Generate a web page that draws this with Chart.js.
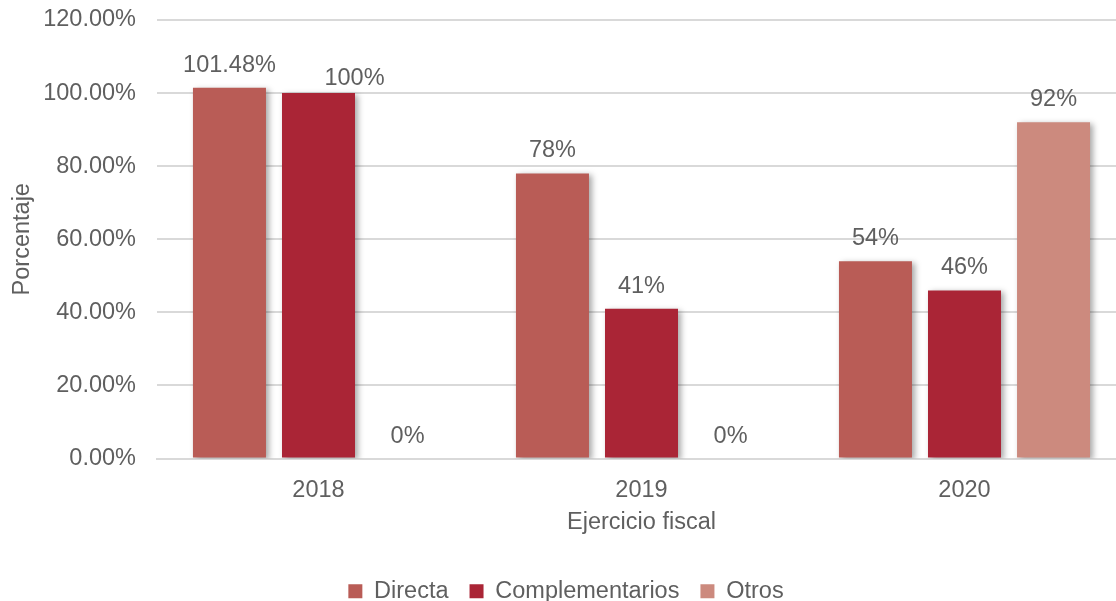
<!DOCTYPE html>
<html>
<head>
<meta charset="utf-8">
<script src="https://cdn.jsdelivr.net/npm/chart.js@4.4.1/dist/chart.umd.min.js"></script>
<style>
html,body{margin:0;padding:0;background:#fff;overflow:hidden;}
#wrap{width:1126px;height:601px;}
</style>
</head>
<body>
<div id="wrap"><canvas id="c" width="1126" height="601"></canvas></div>
<script>
const categories = ['2018', '2019', '2020'];
const directa = [101.48, 78, 54];
const complementarios = [100, 41, 46];
const otros = [0, 0, 92];
const directaLabels = ['101.48%', '78%', '54%'];
const complementariosLabels = ['100%', '41%', '46%'];
const otrosLabels = ['0%', '0%', '92%'];
const yTicks = [0, 20, 40, 60, 80, 100, 120];

const FONT = '"Liberation Sans", Arial, sans-serif';
const FS = 23.5;
const TXT = '#5f5f5f';

// manual placement of one label (as in the original, nudged to avoid overlap)
const labelNudge = { '1-0': { dx: 36, dy: 8 } };

const shadowPlugin = {
  id: 'shadow',
  beforeDatasetsDraw(chart) {
    const ctx = chart.ctx;
    ctx.save();
    ctx.shadowColor = 'rgba(0,0,0,0.35)';
    ctx.shadowBlur = 6;
    ctx.shadowOffsetX = 3;
    ctx.shadowOffsetY = 2;
  },
  afterDatasetsDraw(chart) {
    const ctx = chart.ctx;
    ctx.restore();
    ctx.save();
    ctx.fillStyle = TXT;
    ctx.font = FS + 'px ' + FONT;
    ctx.textAlign = 'center';
    ctx.textBaseline = 'alphabetic';
    chart.data.datasets.forEach((ds, di) => {
      const meta = chart.getDatasetMeta(di);
      meta.data.forEach((bar, i) => {
        const n = labelNudge[di + '-' + i] || { dx: 0, dy: 0 };
        ctx.fillText(ds.valueLabels[i], bar.x + n.dx, bar.y - 16 + n.dy);
      });
    });
    ctx.restore();
  }
};

new Chart(document.getElementById('c'), {
  type: 'bar',
  data: {
    labels: categories,
    datasets: [
      { label: 'Directa', data: directa, valueLabels: directaLabels, backgroundColor: '#B95C56' },
      { label: 'Complementarios', data: complementarios, valueLabels: complementariosLabels, backgroundColor: '#AA2536' },
      { label: 'Otros', data: otros, valueLabels: otrosLabels, backgroundColor: '#CC8A7E' }
    ]
  },
  options: {
    responsive: false,
    animation: false,
    datasets: { bar: { categoryPercentage: 0.827, barPercentage: 0.82 } },
    layout: { padding: { left: 6, right: 0, top: 20, bottom: -12 } },
    plugins: {
      tooltip: { enabled: false },
      legend: {
        position: 'bottom',
        labels: {
          boxWidth: 14, boxHeight: 14, padding: 21,
          color: TXT, font: { family: FONT, size: FS }
        }
      }
    },
    scales: {
      x: {
        grid: { display: false, drawTicks: false },
        border: { color: '#d9d9d9', width: 2 },
        ticks: { color: TXT, font: { family: FONT, size: FS }, padding: 18 },
        title: { display: true, text: 'Ejercicio fiscal', color: TXT, font: { family: FONT, size: FS }, padding: { top: 0, bottom: 22 } },
        afterFit(scale) { scale.height = 100; }
      },
      y: {
        min: 0, max: 120,
        afterBuildTicks(scale) { scale.ticks = yTicks.map(v => ({ value: v })); },
        grid: { color: '#d9d9d9', lineWidth: 2, drawTicks: false },
        border: { display: false },
        ticks: { color: TXT, font: { family: FONT, size: FS }, padding: 21, callback: v => v.toFixed(2) + '%' },
        title: { display: true, text: 'Porcentaje', color: TXT, font: { family: FONT, size: FS }, padding: { top: 2, bottom: 0 } },
        afterFit(scale) { scale.width = 151; scale.paddingTop = 0; scale.paddingBottom = 0; }
      }
    }
  },
  plugins: [shadowPlugin]
});
</script>
</body>
</html>
